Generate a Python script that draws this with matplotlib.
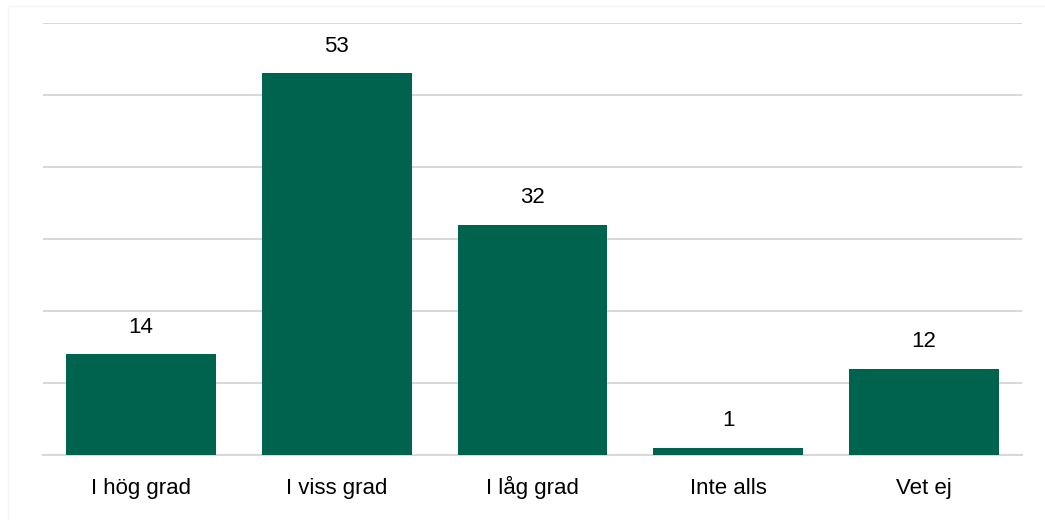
import matplotlib
matplotlib.use("Agg")
import matplotlib.pyplot as plt
from matplotlib.lines import Line2D

categories = ["I hög grad", "I viss grad", "I låg grad", "Inte alls", "Vet ej"]
values = [14, 53, 32, 1, 12]

bar_color = "#00634E"
grid_color = "#D9D9D9"

fig = plt.figure(figsize=(10.45, 5.2), dpi=100)
fig.patch.set_facecolor("white")
# faint outer chart border (top and left only visible in the reference)
fig.lines.append(Line2D([8 / 1045, 8 / 1045, 1.0], [0.0, 1 - 6 / 520, 1 - 6 / 520],
                        transform=fig.transFigure, color="#F4F4F4", linewidth=1))

ax = fig.add_axes([43 / 1045, 1 - 455 / 520, (1022 - 43) / 1045, (455 - 23) / 520])
x = list(range(len(categories)))
bars = ax.bar(x, values, width=0.765, color=bar_color, zorder=3)

ax.set_xlim(-0.5, len(categories) - 0.5)
ax.set_ylim(0, 60)
ax.set_yticks(range(0, 61, 10))
ax.yaxis.grid(True, color=grid_color, linewidth=1.5, zorder=0)
ax.tick_params(axis="y", left=False, labelleft=False)
ax.tick_params(axis="x", length=0, pad=28)
ax.set_xticks(x)
ax.set_xticklabels(categories, fontsize=16, family="Liberation Sans",
                   color="#000000", va="baseline")
for s in ["top", "right", "left"]:
    ax.spines[s].set_visible(False)
ax.spines["bottom"].set_color(grid_color)
ax.spines["bottom"].set_linewidth(1.5)

for xi, v in zip(x, values):
    ax.annotate(str(v), xy=(xi, v), xytext=(0, 12), textcoords="offset points",
                ha="center", va="bottom", fontsize=16,
                family="Liberation Sans", color="#000000")

fig.savefig("out.png", dpi=100, facecolor="white")
